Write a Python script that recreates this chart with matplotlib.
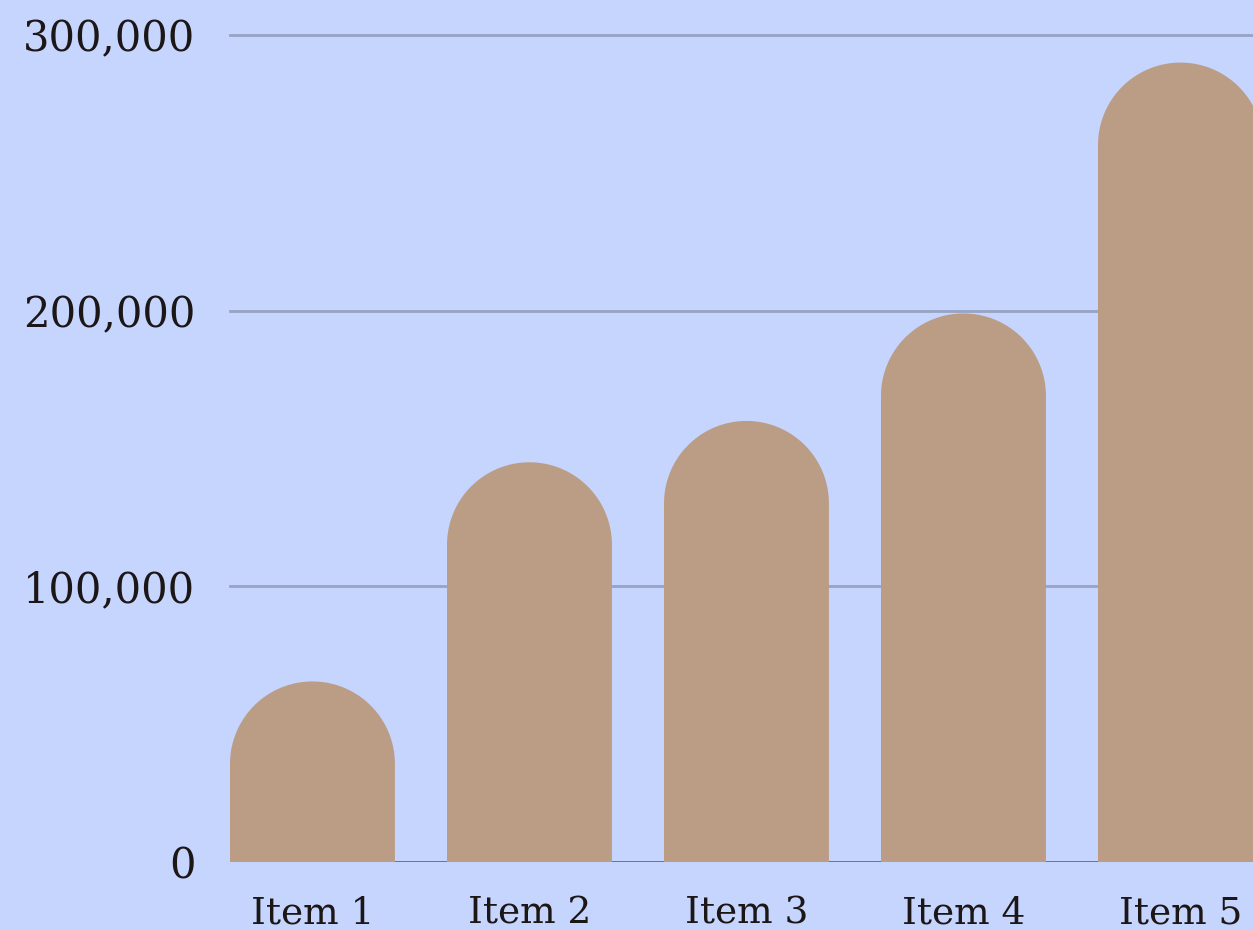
import numpy as np
import matplotlib.pyplot as plt
from matplotlib.patches import PathPatch
from matplotlib.path import Path
from matplotlib.ticker import FuncFormatter

categories = ["Item 1", "Item 2", "Item 3", "Item 4", "Item 5"]
values = [65500, 145000, 160000, 199000, 290000]
y_ticks = [0, 100000, 200000, 300000]

bg = "#c6d5fe"
bar_color = "#bb9c84"
text_color = "#1c1616"

W, H = 12.53, 9.30
fig = plt.figure(figsize=(W, H), dpi=100, facecolor=bg)
ax = fig.add_axes([230 / 1253, 68 / 930, 1023 / 1253, 827 / 930])
ax.set_facecolor(bg)

bar_w = 0.76
x = np.arange(len(categories))
ax.set_xlim(-bar_w / 2, -bar_w / 2 + 1023 / 217)
ax.set_ylim(0, 300000)

# radius of the round top in data units (semicircle in pixels)
px_x = 1023 / (ax.get_xlim()[1] - ax.get_xlim()[0])
px_y = 827 / 300000
rx = bar_w / 2
ry = rx * px_x / px_y

t = np.linspace(np.pi, 0, 60)
for xi, v in zip(x, values):
    arc_x = xi + rx * np.cos(t)
    arc_y = v - ry + ry * np.sin(t)
    xs = np.concatenate([[xi - rx], arc_x, [xi + rx, xi - rx]])
    ys = np.concatenate([[0], arc_y, [0, 0]])
    verts = np.column_stack([xs, ys])
    codes = [Path.MOVETO] + [Path.LINETO] * (len(verts) - 2) + [Path.CLOSEPOLY]
    ax.add_patch(PathPatch(Path(verts, codes), facecolor=bar_color,
                           edgecolor="none", zorder=3))

for yv in y_ticks[1:]:
    ax.axhline(yv, color="#97a3c4", lw=2, zorder=1, clip_on=False)
ax.axhline(0, color="#6a6a72", lw=2, zorder=2)

for s in ax.spines.values():
    s.set_visible(False)

ax.set_yticks(y_ticks)
ax.yaxis.set_major_formatter(FuncFormatter(lambda v, p: f"{int(v):,}"))
ax.set_xticks(x)
ax.set_xticklabels(categories)
ax.tick_params(axis="both", length=0, labelcolor=text_color)
ax.tick_params(axis="y", pad=25, labelsize=30)
ax.tick_params(axis="x", pad=24, labelsize=27)
for lab in ax.get_xticklabels() + ax.get_yticklabels():
    lab.set_family("DejaVu Serif")

fig.savefig("out.png", dpi=100, facecolor=bg)
